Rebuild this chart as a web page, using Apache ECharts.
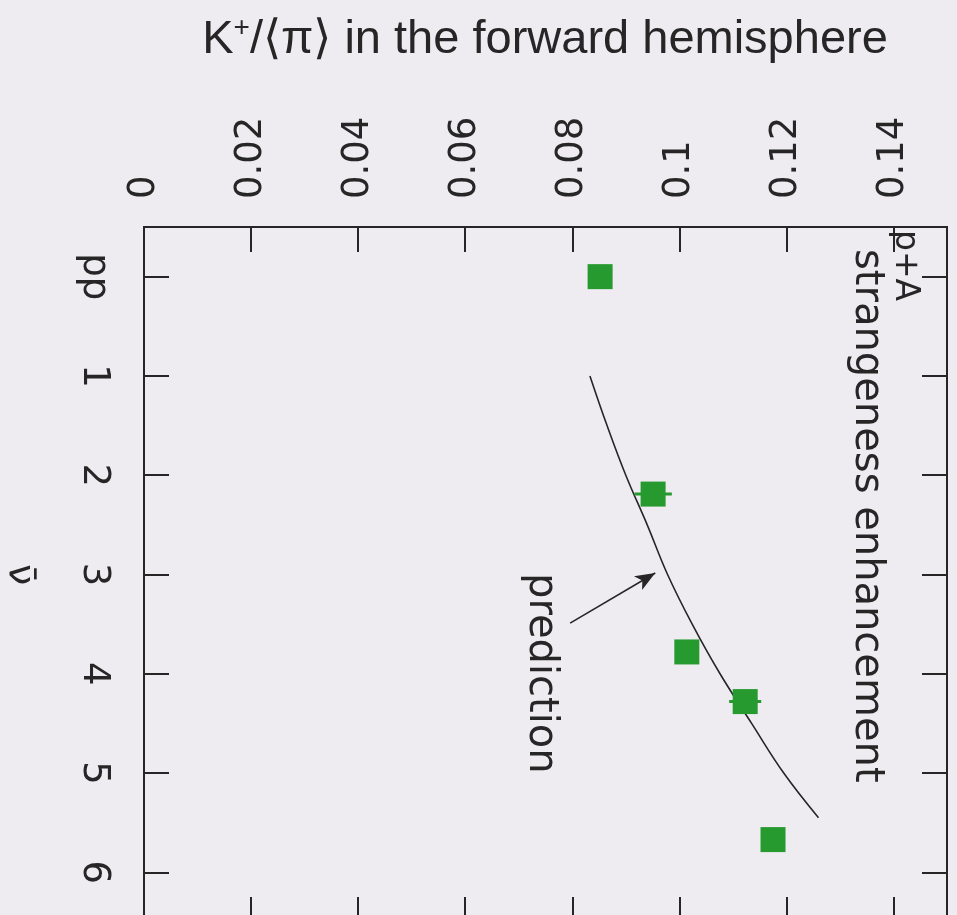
<!DOCTYPE html>
<html>
<head>
<meta charset="utf-8">
<script src="https://cdn.jsdelivr.net/npm/echarts@6/dist/echarts.min.js"></script>
<style>
  html, body { margin: 0; padding: 0; background: #eeecf1; }
  #chart { width: 957px; height: 915px; }
</style>
</head>
<body>
<div id="chart"></div>
<script>
// Tick positions and labels of both axes
const nuTicks = [0, 1, 2, 3, 4, 5, 6];
const nuTickLabels = ['pp', '1', '2', '3', '4', '5', '6'];
const ratioTicks = [0, 0.02, 0.04, 0.06, 0.08, 0.1, 0.12, 0.14];
const ratioTickLabels = ['0', '0.02', '0.04', '0.06', '0.08', '0.1', '0.12', '0.14'];

// Measured K+/<pi> ratios (pp plotted at nu = 0)
const measNu = [0, 2.19, 3.78, 4.28, 5.67];
const measRatio = [0.0852, 0.0951, 0.1014, 0.1123, 0.1175];
const measErr = [0.001, 0.0035, 0.002, 0.003, 0.002];

// Strangeness-enhancement prediction curve
const predNu = [1, 1.5, 2, 2.5, 3, 3.5, 4, 4.5, 5, 5.45];
const predRatio = [0.0833, 0.0865, 0.0900, 0.0940, 0.0978, 0.1024, 0.1076, 0.1135, 0.1195, 0.1260];

// Arrow pointing from the "prediction" label to the curve (data coordinates)
const arrowTail = [0.0796, 3.49];
const arrowHead = [0.0955, 2.985];

const INK = '#262626';
const GREEN = '#26992f';
const tickFont = 'DejaVu Sans';

// Text is set sideways, reading downwards (90 degrees clockwise)
const SIDEWAYS_DEG = -90;

function labelFor(ticks, labels) {
  return function (v) {
    for (let i = 0; i < ticks.length; i++) {
      if (Math.abs(ticks[i] - v) < 1e-9) return labels[i];
    }
    return '';
  };
}

const chart = echarts.init(document.getElementById('chart'), null, { renderer: 'canvas' });

const tickStyle = { show: true, inside: true, length: 25, lineStyle: { color: INK, width: 2 } };
const lineStyle = { show: true, onZero: false, lineStyle: { color: INK, width: 2 } };

chart.setOption({
  backgroundColor: '#eeecf1',
  animation: false,
  grid: {
    left: 144, right: 10, top: 227, bottom: -7,
    containLabel: false, outerBoundsMode: 'none',
    show: true, borderColor: INK, borderWidth: 2, backgroundColor: 'transparent'
  },
  xAxis: [
    {
      type: 'value', position: 'top', min: 0, max: 0.15,
      axisLine: lineStyle,
      axisTick: Object.assign({ customValues: ratioTicks }, tickStyle),
      axisLabel: {
        customValues: ratioTicks, rotate: SIDEWAYS_DEG, margin: 28,
        formatter: labelFor(ratioTicks, ratioTickLabels),
        fontFamily: tickFont, fontSize: 37, color: INK
      },
      splitLine: { show: false }
    },
    {
      type: 'value', position: 'bottom', min: 0, max: 0.15,
      axisLine: lineStyle,
      axisTick: Object.assign({ customValues: ratioTicks }, tickStyle),
      axisLabel: { show: false },
      splitLine: { show: false }
    }
  ],
  yAxis: [
    {
      type: 'value', position: 'left', min: -0.5, max: 6.5, inverse: true,
      name: 'ν\u0304', nameLocation: 'middle', nameRotate: SIDEWAYS_DEG, nameGap: 106,
      nameTextStyle: { fontFamily: tickFont, fontSize: 38, color: INK },
      axisLine: lineStyle,
      axisTick: Object.assign({ customValues: nuTicks }, tickStyle),
      axisLabel: {
        customValues: nuTicks, rotate: SIDEWAYS_DEG, margin: 32,
        formatter: labelFor(nuTicks, nuTickLabels),
        fontFamily: tickFont, fontSize: 37, color: INK
      },
      splitLine: { show: false }
    },
    {
      type: 'value', position: 'right', min: -0.5, max: 6.5, inverse: true,
      axisLine: lineStyle,
      axisTick: Object.assign({ customValues: nuTicks }, tickStyle),
      axisLabel: { show: false },
      splitLine: { show: false }
    }
  ],
  series: [
    {
      name: 'prediction',
      type: 'line',
      xAxisIndex: 0, yAxisIndex: 0,
      data: predNu.map((n, i) => [predRatio[i], n]),
      smooth: 0.4,
      showSymbol: false,
      lineStyle: { color: INK, width: 1.6 },
      markLine: {
        silent: true,
        symbol: ['none', 'arrow'],
        symbolSize: [12, 20],
        lineStyle: { color: INK, width: 1.6, type: 'solid' },
        label: { show: false },
        data: [[{ coord: arrowTail }, { coord: arrowHead }]]
      },
      z: 3
    },
    {
      name: 'error',
      type: 'custom',
      xAxisIndex: 0, yAxisIndex: 0,
      data: measNu.map((n, i) => [measRatio[i] - measErr[i], measRatio[i] + measErr[i], n]),
      encode: { x: [0, 1], y: 2 },
      renderItem: function (params, api) {
        const a = api.coord([api.value(0), api.value(2)]);
        const b = api.coord([api.value(1), api.value(2)]);
        return {
          type: 'line',
          shape: { x1: a[0], y1: a[1], x2: b[0], y2: b[1] },
          style: { stroke: GREEN, lineWidth: 3 }
        };
      },
      z: 4
    },
    {
      name: 'p+A',
      type: 'scatter',
      xAxisIndex: 0, yAxisIndex: 0,
      data: measNu.map((n, i) => [measRatio[i], n]),
      symbol: 'rect',
      symbolSize: 25,
      itemStyle: { color: GREEN, opacity: 1 },
      z: 10
    }
  ],
  graphic: [
    {
      type: 'text', x: 545, y: 40,
      style: {
        text: '{a|K}{s|+}{a|/⟨π⟩ in the forward hemisphere}',
        align: 'center', verticalAlign: 'middle',
        textAlign: 'center', textVerticalAlign: 'middle',
        rich: {
          a: { fontFamily: 'Liberation Sans', fontSize: 47, fill: INK, color: INK, lineHeight: 52 },
          s: { fontFamily: 'Liberation Sans', fontSize: 28, fill: INK, color: INK, verticalAlign: 'top', lineHeight: 52 }
        }
      }
    },
    {
      type: 'text', x: 905, y: 230, rotation: -Math.PI / 2,
      style: {
        text: 'p+A', font: '33px "DejaVu Sans"', fill: INK,
        align: 'left', verticalAlign: 'middle', textAlign: 'left', textVerticalAlign: 'middle'
      }
    },
    {
      type: 'text', x: 866, y: 249, rotation: -Math.PI / 2,
      style: {
        text: 'strangeness enhancement', font: '40px "DejaVu Sans"', fill: INK,
        align: 'left', verticalAlign: 'middle', textAlign: 'left', textVerticalAlign: 'middle'
      }
    },
    {
      type: 'text', x: 540, y: 573, rotation: -Math.PI / 2,
      style: {
        text: 'prediction', font: '40px "DejaVu Sans"', fill: INK,
        align: 'left', verticalAlign: 'middle', textAlign: 'left', textVerticalAlign: 'middle'
      }
    }
  ]
});
</script>
</body>
</html>
